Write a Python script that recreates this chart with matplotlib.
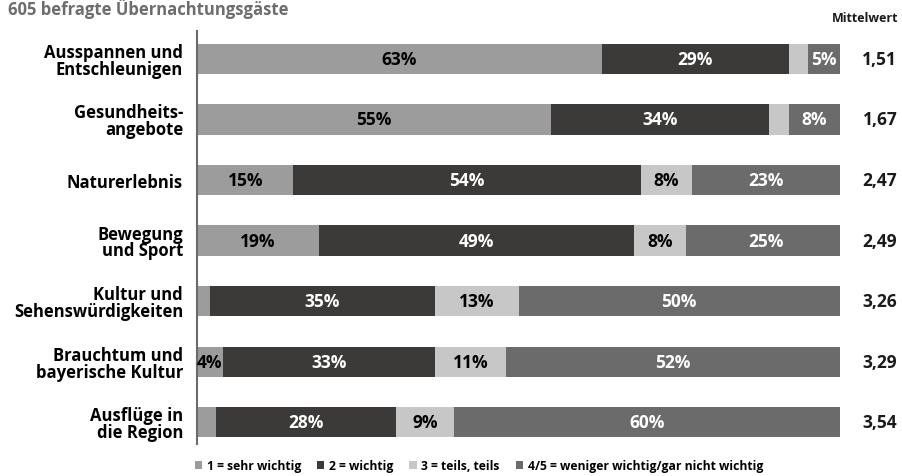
import matplotlib

matplotlib.use("Agg")
import matplotlib.pyplot as plt
import numpy as np

plt.rcParams["font.family"] = ["Open Sans", "DejaVu Sans"]
plt.rcParams["font.weight"] = "bold"

categories = [
    "Ausspannen und\nEntschleunigen",
    "Gesundheits-\nangebote",
    "Naturerlebnis",
    "Bewegung\nund Sport",
    "Kultur und\nSehenswürdigkeiten",
    "Brauchtum und\nbayerische Kultur",
    "Ausflüge in\ndie Region",
]
sehr_wichtig = [63, 55, 15, 19, 2, 4, 3]
wichtig = [29, 34, 54, 49, 35, 33, 28]
teils = [3, 3, 8, 8, 13, 11, 9]
weniger = [5, 8, 23, 25, 50, 52, 60]
mittelwert = ["1,51", "1,67", "2,47", "2,49", "3,26", "3,29", "3,54"]

series_labels = [
    "1 = sehr wichtig",
    "2 = wichtig",
    "3 = teils, teils",
    "4/5 = weniger wichtig/gar nicht wichtig",
]
colors = ["#9c9c9c", "#3b3a39", "#c6c7c6", "#6b6b6b"]
text_colors = ["black", "white", "black", "white"]

figure = plt.figure(figsize=(9.02, 4.77), dpi=100)
axis = figure.add_axes([197 / 902, 1 - 445 / 477, (840 - 197) / 902, (445 - 32) / 477])

y = np.arange(len(categories))
left = np.zeros(len(categories))
handles = []
for values, color, tcolor, label in zip(
    [sehr_wichtig, wichtig, teils, weniger], colors, text_colors, series_labels
):
    values = np.array(values, dtype=float)
    bars = axis.barh(y, values, left=left, height=0.5, color=color, label=label)
    handles.append(bars)
    for yi, l, v in zip(y, left, values):
        if v >= 4:
            axis.text(l + v / 2, yi, f"{v:.0f}%", ha="center", va="center",
                      color=tcolor, fontsize=12.5, fontweight="bold")
    left += values

for yi, m in zip(y, mittelwert):
    axis.text(106.2, yi, m, ha="center", va="center", fontsize=12.5,
              fontweight="bold", color="#1a1a1a", clip_on=False)

axis.set_xlim(0, 100)
axis.set_ylim(6.36, -0.46)
axis.set_yticks(y, labels=categories, fontsize=12, fontweight="bold",
                linespacing=0.92)
axis.tick_params(axis="y", length=0, pad=10)
axis.set_xticks([])
for side in ["top", "right", "bottom"]:
    axis.spines[side].set_visible(False)
axis.spines["left"].set_color("#6b6b6b")
axis.spines["left"].set_linewidth(1.5)

figure.text(8 / 902, 1 - 9 / 477, "605 befragte Übernachtungsgäste", ha="left",
            va="center", fontsize=12, fontweight="bold", color="#6d6d6d")
figure.text(898 / 902, 1 - 19 / 477, "Mittelwert", ha="right", va="center",
            fontsize=9, fontweight="bold", color="#1a1a1a")

figure.legend(handles=handles, labels=series_labels, loc="center left",
              bbox_to_anchor=(195 / 902, 1 - 467 / 477), ncol=4, frameon=False,
              fontsize=8.7, handlelength=0.6, handleheight=0.6, handletextpad=0.4,
              columnspacing=1.3, borderpad=0, borderaxespad=0)

figure.savefig("out.png", dpi=100)
